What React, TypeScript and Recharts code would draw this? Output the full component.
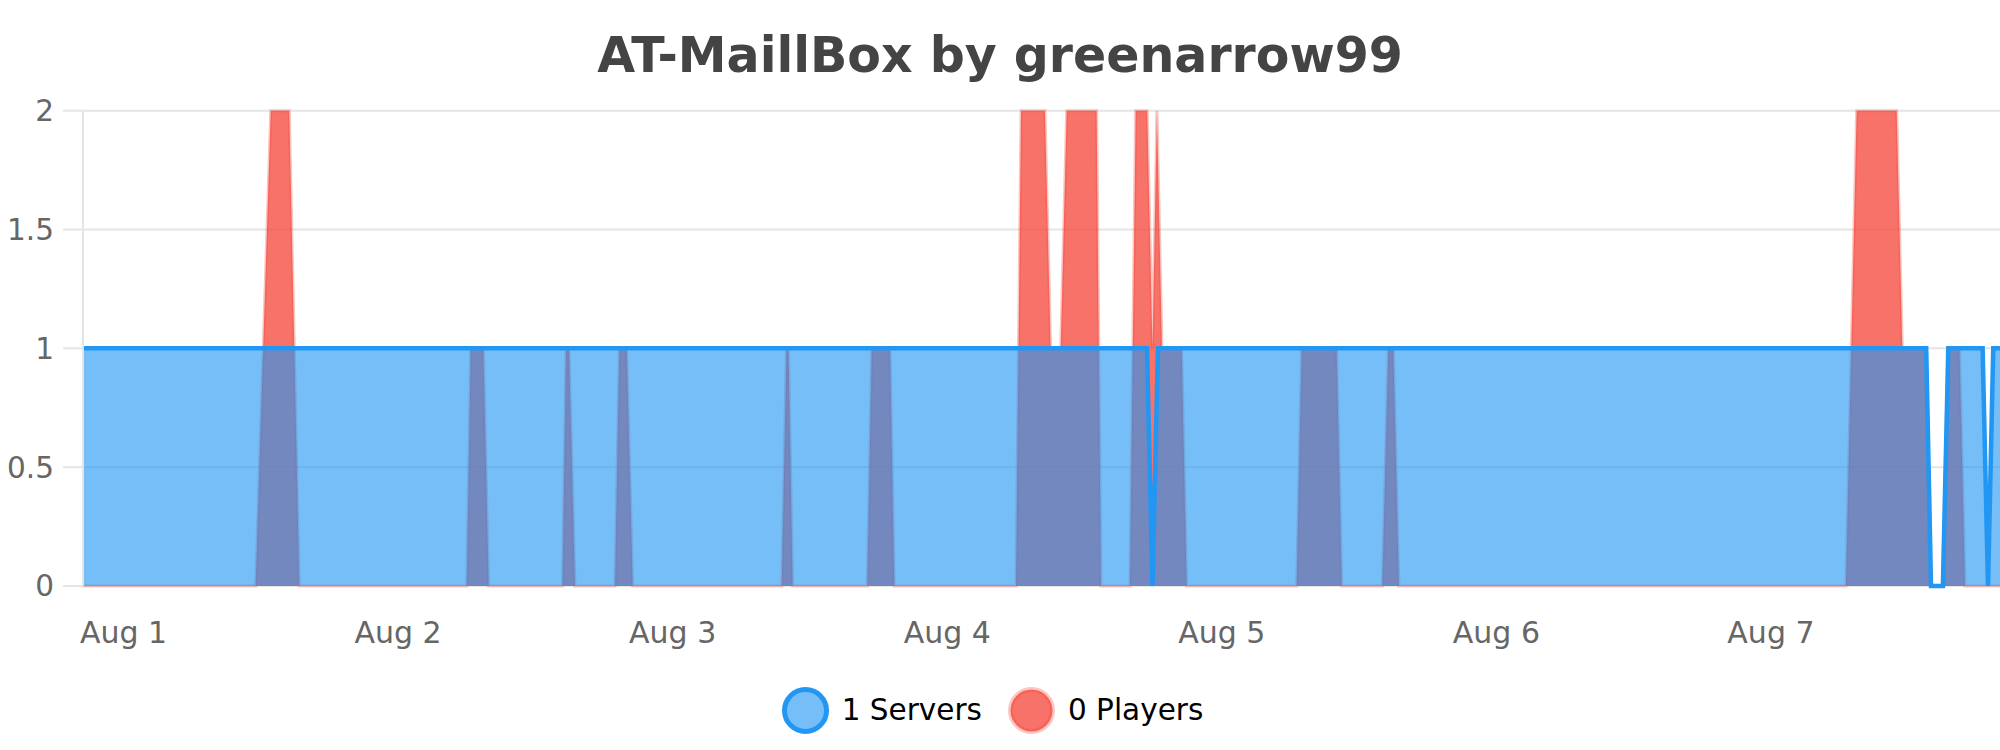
import React from "react"
import {
  AreaChart,
  Area,
  XAxis,
  YAxis,
  CartesianGrid,
  Legend,
} from "recharts"

// time is in hours counted from Aug 1 00:00
const dayTicks = [0, 24, 48, 72, 96, 120, 144]
const dayLabels = ["Aug 1", "Aug 2", "Aug 3", "Aug 4", "Aug 5", "Aug 6", "Aug 7"]
const yTicks = [0, 0.5, 1, 1.5, 2]

const playerHours = [
  -3.54, 11.55, 12.87, 14.49, 15.37,
  30.0, 30.35, 31.45, 31.92,
  38.37, 38.68, 38.94, 39.46,
  42.96, 43.34, 43.98, 44.51,
  57.53, 57.95, 58.12, 58.49,
  65.01, 65.4, 67.0, 67.37,
  78.01, 78.45, 80.54, 81.04, 81.92, 82.44, 85.06, 85.44,
  87.97, 88.47, 89.48, 89.94, 90.33, 90.77, 92.49, 92.93,
  102.54, 102.98, 106.04, 106.48,
  110.03, 110.55, 110.99, 111.48,
  150.55, 151.49, 154.99, 155.48, 157.55, 157.99,
  158.99, 159.47, 160.48, 160.96, 164.02,
]
const playerCounts = [
  0, 0, 2, 2, 0,
  0, 1, 1, 0,
  0, 1, 1, 0,
  0, 1, 1, 0,
  0, 1, 1, 0,
  0, 1, 1, 0,
  0, 2, 2, 1, 1, 2, 2, 0,
  0, 2, 2, 1, 2, 1, 1, 0,
  0, 1, 1, 0,
  0, 1, 1, 0,
  0, 2, 2, 1, 1, 0,
  0, 1, 1, 0, 0,
]

const serverHours = [
  -3.54, 89.46, 89.94, 90.42,
  157.57, 157.99, 159.03, 159.5,
  162.5, 162.97, 163.43, 164.02,
]
const serverCounts = [
  1, 1, 0, 1,
  1, 0, 0, 1,
  1, 0, 1, 1,
]

const chartTitle = "AT-MaillBox by greenarrow99"
const legendLabels = ["1 Servers", "0 Players"]

const playerData = playerHours.map((t, i) => ({ t, players: playerCounts[i] }))
const serverData = serverHours.map((t, i) => ({ t, servers: serverCounts[i] }))

const BLUE = "#2196F3"
const RED = "#F44336"
const FONT = "'DejaVu Sans', Verdana, sans-serif"

function ChartLegend() {
  const items = [
    { label: legendLabels[0], fill: "rgba(33,150,243,0.62)", stroke: BLUE },
    { label: legendLabels[1], fill: "rgba(244,67,54,0.75)", stroke: "rgba(244,67,54,0.3)" },
  ]
  return (
    <div
      style={{
        display: "flex",
        justifyContent: "center",
        alignItems: "center",
        height: 60,
        paddingRight: 15,
        fontFamily: FONT,
        fontSize: 29.5,
        color: "#000",
      }}
    >
      {items.map((item, i) => (
        <div
          key={item.label}
          style={{ display: "flex", alignItems: "center", marginLeft: i ? 26 : 0 }}
        >
          <svg width={47} height={47}>
            <circle
              cx={23.5}
              cy={23.5}
              r={21}
              fill={item.fill}
              stroke={item.stroke}
              strokeWidth={5}
            />
          </svg>
          <span style={{ marginLeft: 13, whiteSpace: "nowrap" }}>{item.label}</span>
        </div>
      ))}
    </div>
  )
}

export default function App() {
  return (
    <div
      style={{
        position: "absolute",
        left: 0,
        top: 0,
        width: 2000,
        height: 750,
        background: "#fff",
        overflow: "hidden",
        fontFamily: FONT,
      }}
    >
      <div
        style={{
          position: "absolute",
          left: 0,
          top: 31,
          width: 2000,
          textAlign: "center",
          fontSize: 49,
          lineHeight: "49px",
          fontWeight: "bold",
          color: "#444",
        }}
      >
        {chartTitle}
      </div>
      <AreaChart
        width={2000}
        height={750}
        margin={{ top: 110.7, right: 0, left: 0, bottom: 10 }}
      >
        <CartesianGrid vertical={false} stroke="#e5e5e5" strokeWidth={2} />
        <XAxis
          type="number"
          dataKey="t"
          domain={[-3.54, 164.02]}
          allowDataOverflow
          ticks={dayTicks}
          interval={0}
          tickFormatter={(v) => dayLabels[dayTicks.indexOf(v)]}
          axisLine={false}
          tickLine={false}
          tickSize={0}
          tickMargin={36}
          height={94}
          tick={{ fill: "#666", fontSize: 30, fontFamily: FONT }}
        />
        <YAxis
          type="number"
          domain={[0, 2]}
          ticks={yTicks}
          interval={0}
          width={83}
          axisLine={{ stroke: "#e5e5e5", strokeWidth: 2 }}
          tickLine={{ stroke: "#e5e5e5", strokeWidth: 2 }}
          tickSize={20}
          tickMargin={9}
          tick={{ fill: "#666", fontSize: 29.5, fontFamily: FONT }}
        />
        <Legend verticalAlign="bottom" height={60} content={() => <ChartLegend />} />
        <Area
          data={playerData}
          dataKey="players"
          type="linear"
          fill={RED}
          fillOpacity={0.75}
          stroke="rgba(244,67,54,0.3)"
          strokeWidth={3}
          isAnimationActive={false}
        />
        <Area
          data={serverData}
          dataKey="servers"
          type="linear"
          fill={BLUE}
          fillOpacity={0.62}
          stroke={BLUE}
          strokeWidth={4.5}
          isAnimationActive={false}
        />
      </AreaChart>
    </div>
  )
}
